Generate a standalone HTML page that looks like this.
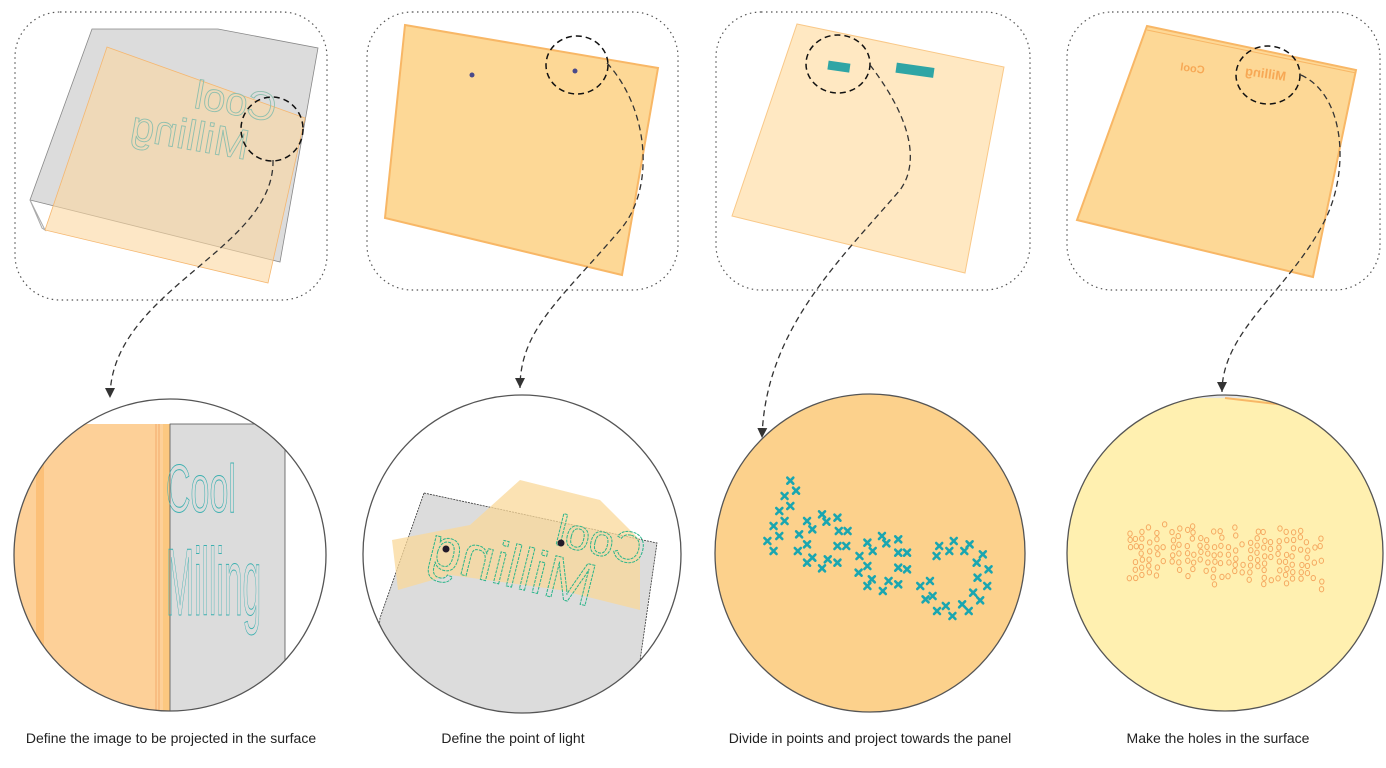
<!DOCTYPE html>
<html><head><meta charset="utf-8"><style>
html,body{margin:0;padding:0;background:#fff;width:1386px;height:768px;overflow:hidden}
svg{display:block}
text{font-family:"Liberation Sans",sans-serif}
</style></head><body>
<svg id="s" width="1386" height="768" viewBox="0 0 1386 768" xmlns="http://www.w3.org/2000/svg">
<defs>
<clipPath id="c1"><circle cx="170" cy="555" r="156"/></clipPath>
<clipPath id="c2"><circle cx="522" cy="554" r="159"/></clipPath>
<clipPath id="c4"><circle cx="1225" cy="553" r="158"/></clipPath>
<marker id="ar" viewBox="0 0 10 10" refX="10" refY="5" markerWidth="10" markerHeight="10" orient="auto" markerUnits="userSpaceOnUse"><path d="M0,0 L10,5 L0,10 Z" fill="#333"/></marker>
</defs>
<g fill="none" stroke="#555" stroke-width="1.2" stroke-dasharray="1.5 3.5">
<rect x="15" y="12" width="312" height="288" rx="45"/>
<rect x="367" y="12" width="311" height="278" rx="45"/>
<rect x="716" y="12" width="314" height="278" rx="45"/>
<rect x="1067" y="12" width="313" height="278" rx="45"/>
</g>
<!-- panel 1 -->
<polygon points="92,29 218,29 318,48 280,262 30,200" fill="#dcdcdc" stroke="#888" stroke-width="0.8"/>
<polygon points="30,200 42,228 45,230" fill="none" stroke="#aaa"/>
<polygon points="107,47 305,118 268,283 45,230" fill="#fbd7a0" fill-opacity="0.6" stroke="#f5b770" stroke-width="0.8"/>
<g transform="translate(195,108) rotate(10) scale(-1,1)" fill="none" stroke="#8fbfae" stroke-width="0.9">
<text x="-80" y="0" font-size="40">Cool</text>
<text x="0" y="42" font-size="42" text-anchor="middle">Milling</text>
</g>
<!-- panel 2 -->
<polygon points="405,25 658,68 622,275 385,218" fill="#fdd896" stroke="#f8b766" stroke-width="2"/>
<circle cx="472" cy="75" r="2.5" fill="#4a4a8a"/>
<circle cx="575" cy="71" r="2.5" fill="#4a4a8a"/>
<!-- panel 3 -->
<polygon points="797,24 1004,67 965,273 732,216" fill="#ffe8c2" stroke="#f9c888" stroke-width="1"/>
<rect x="828" y="62" width="22" height="9" fill="#2fa5a5" transform="rotate(8 838 66)"/>
<rect x="896" y="65" width="38" height="10" fill="#2fa5a5" transform="rotate(8 913 70)"/>
<!-- panel 4 -->
<polygon points="1147,26 1356,70 1313,277 1077,220" fill="#fdd896" stroke="#f8b766" stroke-width="2"/>
<line x1="1147" y1="30" x2="1356" y2="73" stroke="#f8b766" stroke-width="1"/>
<g transform="translate(1192,72) rotate(8) scale(-1,1)"><text x="0" y="0" font-size="11" font-weight="bold" fill="#f7a855" text-anchor="middle">Cool</text></g>
<g transform="translate(1265,78) rotate(8) scale(-1,1)"><text x="0" y="0" font-size="13" font-weight="bold" fill="#f7a855" text-anchor="middle">Milling</text></g>
<g fill="none" stroke="#111" stroke-width="1.5" stroke-dasharray="6 4">
<ellipse cx="272" cy="129" rx="31" ry="32"/>
<ellipse cx="577" cy="65" rx="31" ry="29"/>
<ellipse cx="838" cy="64" rx="32" ry="29"/>
<ellipse cx="1268" cy="75" rx="32" ry="29"/>
</g>
<g fill="none" stroke="#333" stroke-width="1.3" stroke-dasharray="6 4">
<path d="M273,160 C275,250 110,290 110,398" marker-end="url(#ar)"/>
<path d="M607,63 C650,110 655,190 620,230 C560,300 520,330 520,388" marker-end="url(#ar)"/>
<path d="M870,65 C920,130 915,170 900,190 C840,260 765,330 762,438" marker-end="url(#ar)"/>
<path d="M1301,75 C1345,95 1350,170 1325,220 C1290,290 1222,330 1222,392" marker-end="url(#ar)"/>
</g>
<!-- circle 1 -->
<g clip-path="url(#c1)">
<rect x="0" y="424" width="170" height="300" fill="#fdd098"/>
<rect x="36" y="424" width="8" height="300" fill="#fcc078"/>
<line x1="156" y1="424" x2="156" y2="720" stroke="#f0a060" stroke-width="0.8"/>
<line x1="159" y1="424" x2="159" y2="720" stroke="#f0a060" stroke-width="0.8"/>
<rect x="163" y="424" width="7" height="300" fill="#fcc880"/>
<rect x="170" y="424" width="115" height="300" fill="#dcdcdc" stroke="#555" stroke-width="0.8"/>
<g fill="none" stroke="#3cb0b0" stroke-width="1">
<text x="0" y="0" font-size="68" transform="translate(166,512) scale(0.5,1)">Cool</text>
<text x="0" y="0" font-size="96" transform="translate(166,615) scale(0.35,1)">Milling</text>
</g>
</g>
<circle cx="170" cy="555" r="156" fill="none" stroke="#555" stroke-width="1.3"/>
<!-- circle 2 -->
<g clip-path="url(#c2)">
<polygon points="424,493 657,543 630,730 370,730 380,618" fill="#dcdcdc" stroke="#333" stroke-width="0.8" stroke-dasharray="2 1"/>
<polygon points="392,540 470,525 520,480 600,500 640,540 640,610 560,590 450,575 398,590" fill="#f9d89a" fill-opacity="0.75"/>
<g transform="translate(515,555) rotate(14) scale(-1,1)" fill="none" stroke="#2cb58a" stroke-width="1" stroke-dasharray="3 1">
<text x="-125" y="-20" font-size="44">Cool</text>
<text x="0" y="32" font-size="60" text-anchor="middle">Milling</text>
</g>
<circle cx="446" cy="549" r="3.5" fill="#221a2a"/>
<circle cx="561" cy="543" r="3.5" fill="#221a2a"/>
</g>
<circle cx="522" cy="554" r="159" fill="none" stroke="#555" stroke-width="1.3"/>
<!-- circle 3 -->
<ellipse cx="870" cy="553" rx="155" ry="159" fill="#fcd18c" stroke="#555" stroke-width="1.3"/>
<g id="xs" fill="none" stroke="#1aa6b0" stroke-width="2.6" stroke-linecap="round"></g>
<!-- circle 4 -->
<g clip-path="url(#c4)">
<rect x="1060" y="390" width="330" height="330" fill="#fff0b0"/>
<rect x="1060" y="390" width="330" height="8" fill="#e6e6e6"/>
<path d="M1225,398 L1285,405" stroke="#f8b766" stroke-width="2"/>
</g>
<circle cx="1225" cy="553" r="158" fill="none" stroke="#555" stroke-width="1.3"/>
<g id="ds" fill="none" stroke="#f5a860" stroke-width="1"></g>
<g font-size="14" fill="#222" text-anchor="middle">
<text x="171" y="743">Define  the image to be projected in the surface</text>
<text x="513" y="743">Define the point of light</text>
<text x="870" y="743">Divide in points and project towards the panel</text>
<text x="1218" y="743">Make the holes in the surface</text>
</g>
</svg>
<script>
var NS="http://www.w3.org/2000/svg";
var P=[[205,302],[218,332],[192,348],[205,378],[180,393],[192,423],[167,438],[180,468],[153,483],[167,513],[243,423],[255,448],[225,463],[243,493],[222,513],[243,548],[255,533],[277,403],[287,425],[312,413],[315,453],[335,453],[312,498],[332,498],[290,538],[312,548],[277,565],[362,528],[380,488],[392,513],[413,468],[423,490],[450,478],[450,518],[470,518],[360,578],[380,558],[450,563],[470,568],[390,598],[380,618],[428,603],[415,633],[450,613],[500,618],[522,603],[512,658],[528,648],[538,693],[558,678],[573,708],[595,673],[610,693],[543,498],[576,483],[612,493],[537,528],[566,513],[600,513],[642,523],[628,548],[655,568],[630,593],[652,618],[620,638],[636,661]];
var g=document.getElementById("xs");
P.forEach(function(p){var x=700+p[0]/2.27,y=380+p[1]/3;
var s=document.createElementNS(NS,"path");s.setAttribute("d","M"+(x-3)+","+(y-3)+"L"+(x+3)+","+(y+3)+"M"+(x+3)+","+(y-3)+"L"+(x-3)+","+(y+3));g.appendChild(s);});
var d=document.getElementById("ds");var seed=7;function r(){seed=(seed*9301+49297)%233280;return seed/233280;}
var cols=[1129,1135,1141,1148,1156,1163,1172,1178,1186,1192,1200,1206,1213,1220,1228,1234,1242,1249,1257,1263,1270,1278,1285,1292,1300,1306,1313,1320];
cols.forEach(function(x,i){var top=522+r()*10,bot=572+r()*12;for(var y=top;y<bot;y+=6+r()*3){if(r()<0.25)continue;var c=document.createElementNS(NS,"ellipse");c.setAttribute("cx",x+r()*2);c.setAttribute("cy",y+i*0.3);c.setAttribute("rx",2.2);c.setAttribute("ry",2.6);d.appendChild(c);}});
</script>
</body></html>
